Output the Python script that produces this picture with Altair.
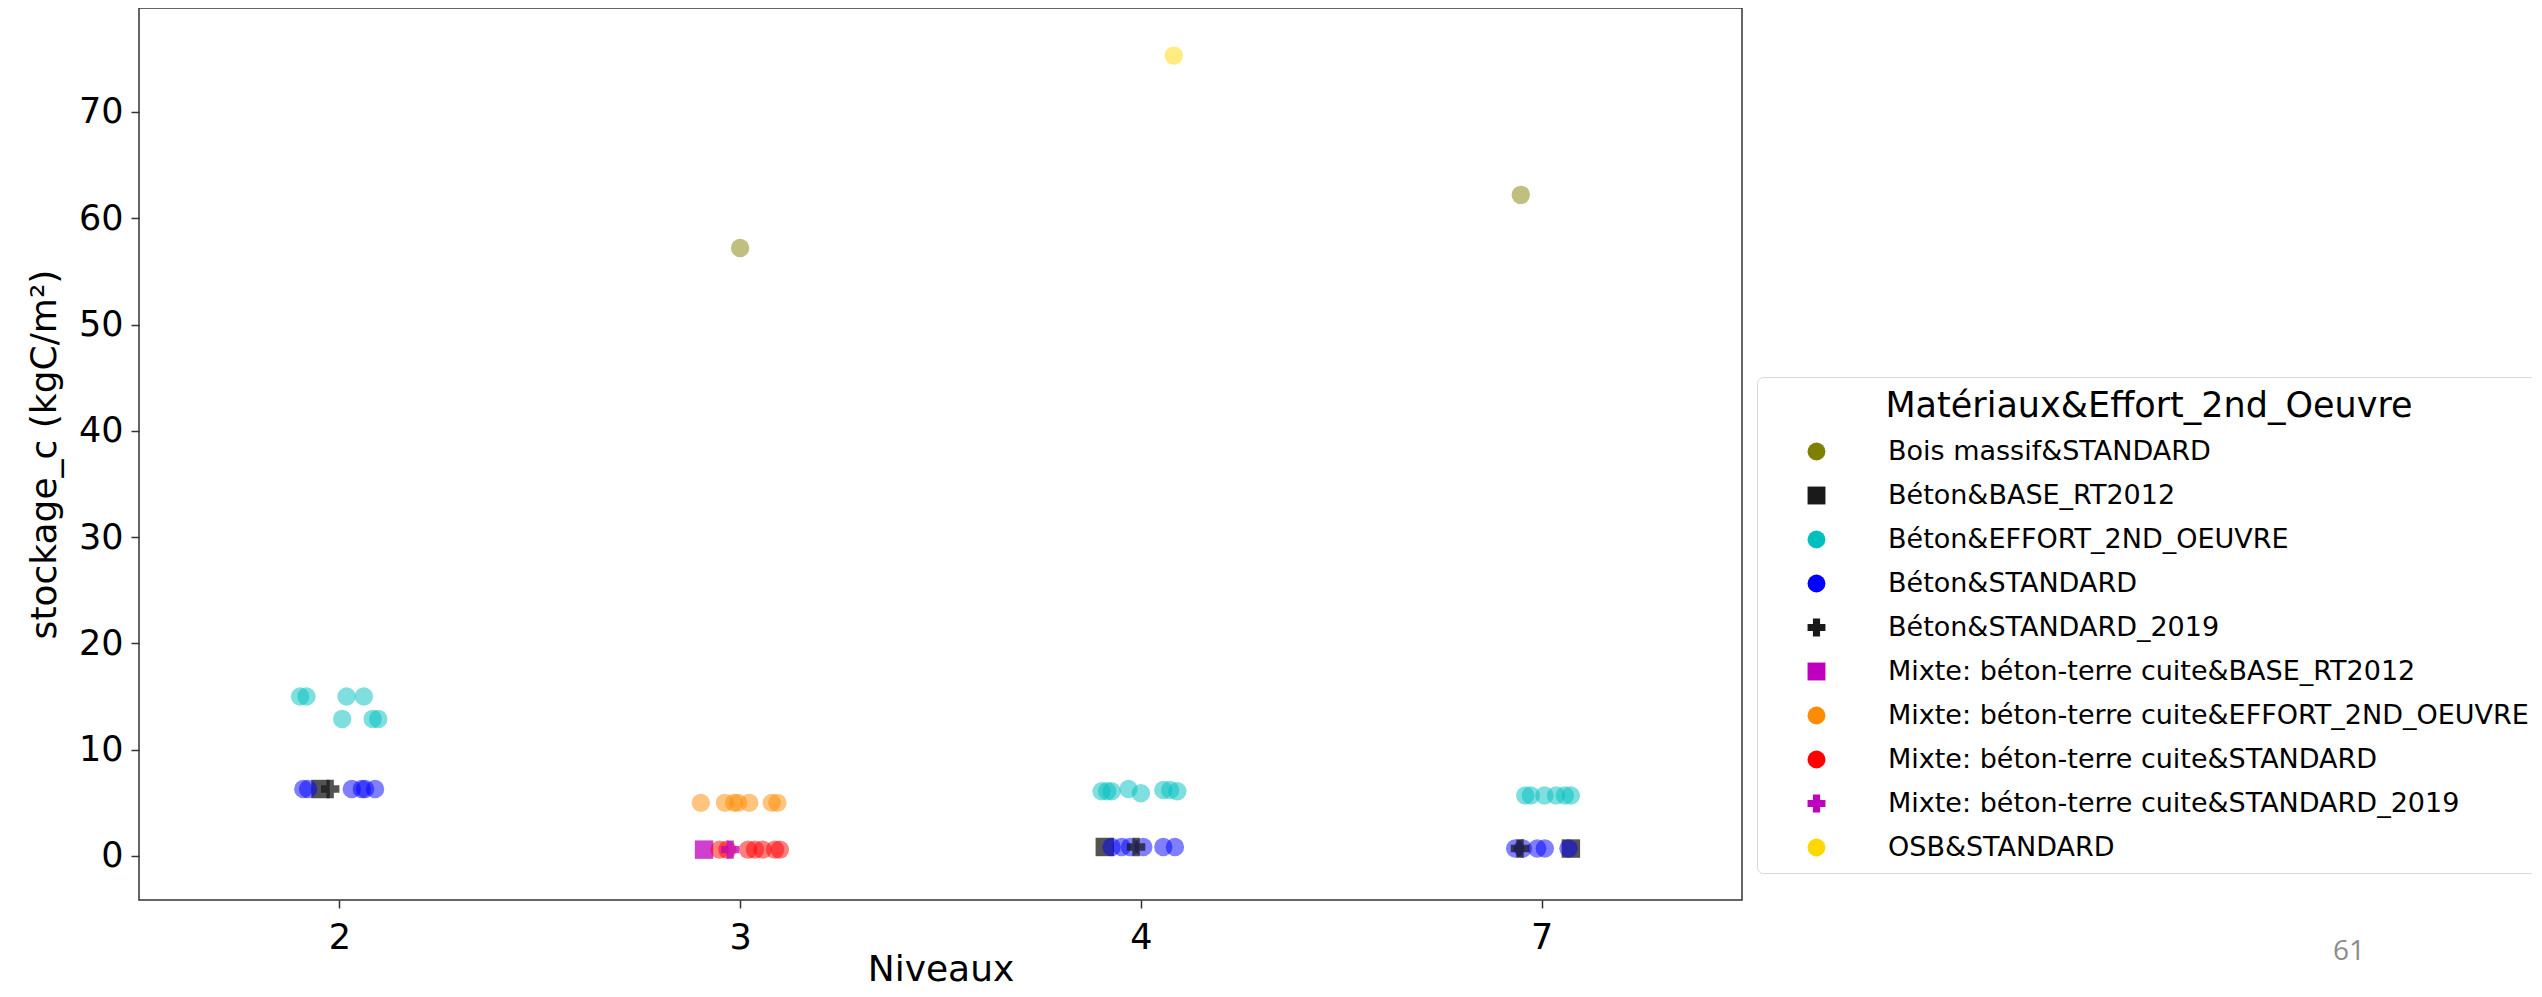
import json
import altair as alt
import pandas as pd

# ---- data ----
levels = ["2", "3", "4", "7"]

groups = [
    "Bois massif&STANDARD",
    "Béton&BASE_RT2012",
    "Béton&EFFORT_2ND_OEUVRE",
    "Béton&STANDARD",
    "Béton&STANDARD_2019",
    "Mixte: béton-terre cuite&BASE_RT2012",
    "Mixte: béton-terre cuite&EFFORT_2ND_OEUVRE",
    "Mixte: béton-terre cuite&STANDARD",
    "Mixte: béton-terre cuite&STANDARD_2019",
    "OSB&STANDARD",
]
colors = ["#808000", "#1a1a1a", "#00bfbf", "#0000ff", "#1a1a1a",
          "#bf00bf", "#ff8c00", "#ff0000", "#bf00bf", "#ffd700"]
shapes = ["circle", "square", "circle", "circle", "cross",
          "square", "circle", "circle", "cross", "circle"]

# per series: niveau, jitter (stripplot offset), stockage value
bois_niveau = ["3", "7"]
bois_jitter = [0.0, -0.052]
bois_value = [57.2, 62.2]

beton_base_niveau = ["2", "4", "7"]
beton_base_jitter = [-0.047, -0.090, 0.073]
beton_base_value = [6.3, 0.85, 0.7]

beton_effort_niveau = ["2"] * 7 + ["4"] * 8 + ["7"] * 6
beton_effort_jitter = [-0.098, -0.082, 0.018, 0.061, 0.007, 0.083, 0.097,
                       -0.098, -0.084, -0.073, -0.031, 0.0, 0.056, 0.073, 0.091,
                       -0.041, -0.027, 0.007, 0.036, 0.058, 0.073]
beton_effort_value = [15.0, 15.0, 15.0, 15.0, 12.9, 12.9, 12.9,
                      6.1, 6.1, 6.1, 6.3, 5.9, 6.2, 6.2, 6.1,
                      5.7, 5.7, 5.7, 5.7, 5.7, 5.7]

beton_std_niveau = ["2"] * 6 + ["4"] * 6 + ["7"] * 5
beton_std_jitter = [-0.090, -0.078, 0.031, 0.056, 0.064, 0.089,
                    -0.073, -0.048, -0.027, 0.006, 0.056, 0.085,
                    -0.066, -0.047, -0.011, 0.008, 0.067]
beton_std_value = [6.3] * 6 + [0.85] * 6 + [0.7] * 5

beton_2019_niveau = ["2", "4", "7"]
beton_2019_jitter = [-0.023, -0.012, -0.054]
beton_2019_value = [6.3, 0.85, 0.7]

mixte_base_niveau = ["3"]
mixte_base_jitter = [-0.090]
mixte_base_value = [0.6]

mixte_effort_niveau = ["3"] * 7
mixte_effort_jitter = [-0.098, -0.038, -0.015, -0.005, 0.023, 0.079, 0.093]
mixte_effort_value = [5.0] * 7

mixte_std_niveau = ["3"] * 7
mixte_std_jitter = [-0.051, -0.032, 0.020, 0.037, 0.056, 0.087, 0.099]
mixte_std_value = [0.6] * 7

mixte_2019_niveau = ["3"]
mixte_2019_jitter = [-0.025]
mixte_2019_value = [0.6]

osb_niveau = ["4"]
osb_jitter = [0.082]
osb_value = [75.3]

page_number = "61"

series = [
    (bois_niveau, bois_jitter, bois_value),
    (beton_base_niveau, beton_base_jitter, beton_base_value),
    (beton_effort_niveau, beton_effort_jitter, beton_effort_value),
    (beton_std_niveau, beton_std_jitter, beton_std_value),
    (beton_2019_niveau, beton_2019_jitter, beton_2019_value),
    (mixte_base_niveau, mixte_base_jitter, mixte_base_value),
    (mixte_effort_niveau, mixte_effort_jitter, mixte_effort_value),
    (mixte_std_niveau, mixte_std_jitter, mixte_std_value),
    (mixte_2019_niveau, mixte_2019_jitter, mixte_2019_value),
    (osb_niveau, osb_jitter, osb_value),
]

rows = []
for g, (nv, jt, vals) in zip(groups, series):
    for n, j, v in zip(nv, jt, vals):
        rows.append({"groupe": g, "niveau": n,
                     "pos": levels.index(n) + j, "stockage": v})
df = pd.DataFrame(rows)

FONT = "DejaVu Sans"
marker_groups = [g for g, s in zip(groups, shapes) if s != "circle"]

legend = alt.Legend(
    title="Matériaux&Effort_2nd_Oeuvre",
    orient="none", legendX=1618, legendY=369,
    strokeColor="#d9d9d9", fillColor="white", cornerRadius=6,
    padding=12, symbolOffset=34, labelOffset=58,
    symbolSize=320, symbolOpacity=1, symbolStrokeWidth=0,
    titleFontSize=35, titleFontWeight="normal", titleFont=FONT,
    titleColor="black", titleAlign="center", titleAnchor="middle",
    titlePadding=14, titleLimit=1200,
    labelFontSize=27, labelFont=FONT, labelColor="black", labelLimit=1200,
    rowPadding=16,
)

points = alt.Chart(df).mark_point(filled=True, size=340, strokeWidth=0).encode(
    x=alt.X("pos:Q",
            scale=alt.Scale(domain=[-0.5, 3.5], nice=False, zero=False),
            axis=alt.Axis(values=list(range(len(levels))),
                          labelExpr=json.dumps(levels) + "[datum.value]",
                          title="Niveaux", titleY=80,
                          titleBaseline="alphabetic", labelPadding=12)),
    y=alt.Y("stockage:Q",
            scale=alt.Scale(domain=[-4.14, 79.78], nice=False, zero=False),
            axis=alt.Axis(values=list(range(0, 80, 10)),
                          title="stockage_c (kgC/m²)", titleX=-84,
                          titleBaseline="alphabetic", labelPadding=8)),
    color=alt.Color("groupe:N", scale=alt.Scale(domain=groups, range=colors),
                    legend=legend),
    shape=alt.Shape("groupe:N", scale=alt.Scale(domain=groups, range=shapes),
                    legend=legend),
    opacity=alt.condition(
        alt.FieldOneOfPredicate(field="groupe", oneOf=marker_groups),
        alt.value(0.75), alt.value(0.5)),
)

page = alt.Chart(pd.DataFrame({"t": [page_number]})).mark_text(
    align="left", baseline="alphabetic", font="Open Sans",
    fontSize=28, color="#8c8c8c",
).encode(text="t:N", x=alt.value(2194), y=alt.value(952))

chart = alt.layer(points, page).properties(
    width=1603, height=892,
    autosize=alt.AutoSizeParams(type="none"),
    padding={"left": 131, "top": 0, "right": 790, "bottom": 88},
).configure(font=FONT).configure_view(
    stroke="#333333", strokeWidth=1.5
).configure_axis(
    grid=False, domain=False, tickColor="#333333", tickWidth=1.5,
    tickSize=8, labelFont=FONT, labelFontSize=35, labelColor="black",
    titleFont=FONT, titleFontSize=36, titleFontWeight="normal",
    titleColor="black",
)

chart.save("out.html", embed_options={"renderer": "svg", "actions": False})
